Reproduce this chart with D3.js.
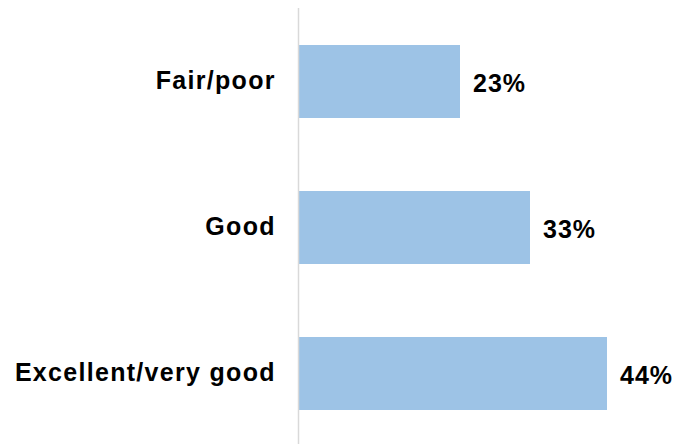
<!DOCTYPE html>
<html>
<head>
<meta charset="utf-8">
<script src="https://cdn.jsdelivr.net/npm/d3@7"></script>
<style>
  html, body { margin: 0; padding: 0; background: #fff; }
  svg text { font-family: "Liberation Sans", Arial, sans-serif; font-weight: bold; fill: #000; }
</style>
</head>
<body>
<svg id="chart" width="678" height="444"></svg>
<script>
const categories = ["Fair/poor", "Good", "Excellent/very good"];
const values = [23, 33, 44];
const valueLabels = ["23%", "33%", "44%"];

const svg = d3.select("#chart");
const x0 = 298.5;
const x = d3.scaleLinear().domain([0, 10]).range([x0, x0 + 70]);
const y = d3.scaleBand().domain(categories).range([8.5, 446.5]).paddingInner(0.5).paddingOuter(0.25);

svg.selectAll("rect.bar").data(categories).enter().append("rect")
  .attr("class", "bar")
  .attr("x", x(0) + 0.5)
  .attr("y", d => y(d))
  .attr("width", (d, i) => x(values[i]) - x(0))
  .attr("height", y.bandwidth())
  .attr("fill", "#9dc3e6");

svg.append("line")
  .attr("x1", x0).attr("x2", x0)
  .attr("y1", 8).attr("y2", 444)
  .attr("stroke", "#d9d9d9").attr("stroke-width", 1.5);

svg.selectAll("text.cat").data(categories).enter().append("text")
  .attr("class", "cat")
  .attr("x", 275.8)
  .attr("y", d => y(d) + y.bandwidth() / 2 + 7.5)
  .attr("text-anchor", "end")
  .style("font-size", "25px")
  .style("letter-spacing", "1.3px")
  .text(d => d);

svg.selectAll("text.val").data(categories).enter().append("text")
  .attr("class", "val")
  .attr("x", (d, i) => x(values[i]) + 13.5)
  .attr("y", d => y(d) + y.bandwidth() / 2 + 10)
  .attr("text-anchor", "start")
  .style("font-size", "25px")
  .style("letter-spacing", "1px")
  .text((d, i) => valueLabels[i]);
</script>
</body>
</html>
